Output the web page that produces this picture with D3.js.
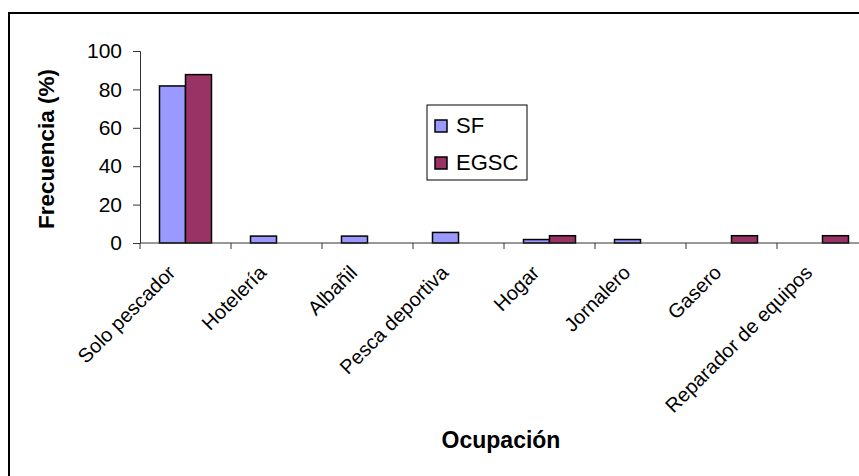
<!DOCTYPE html>
<html><head><meta charset="utf-8">
<script src="https://cdn.jsdelivr.net/npm/d3@7"></script>
<style>body{margin:0;background:#fff}svg{display:block;font-family:"Liberation Sans",Arial,sans-serif}</style>
</head><body><svg id="c" width="859" height="476"></svg>
<script>
const categories = ["Solo pescador","Hotelería","Albañil","Pesca deportiva","Hogar","Jornalero","Gasero","Reparador de equipos"];
const seriesNames = ["SF","EGSC"];
const sfValues = [81.8,3.6,3.6,5.5,1.8,1.8,0,0];
const egscValues = [87.7,0,0,0,3.8,0,3.8,3.8];
const yTicks = [0,20,40,60,80,100];
const colors = ["#9999FF","#993366"];

const svg = d3.select("#c");
svg.append("rect").attr("x",9).attr("y",13).attr("width",880).attr("height",500)
  .attr("fill","none").attr("stroke","#000").attr("stroke-width",2);

const x0 = 140, x1 = 868, yTop = 51, yBot = 243;
const x = d3.scaleBand().domain(categories).range([x0,x1]);
const y = d3.scaleLinear().domain([0,100]).range([yBot,yTop]);
const inner = d3.scaleBand().domain(seriesNames).range([0, 52]);
const vals = [sfValues, egscValues];

const yAxis = svg.append("g").attr("transform",`translate(${x0},0)`)
  .call(d3.axisLeft(y).tickValues(yTicks).tickSize(7).tickPadding(11));
yAxis.selectAll("text").attr("font-size",21).attr("fill","#000").attr("font-family","Liberation Sans, Arial");
yAxis.selectAll("line,path").attr("stroke","#333");

const g = svg.append("g");
categories.forEach((c,i)=>{
  seriesNames.forEach((s,j)=>{
    const v = vals[j][i];
    if (v<=0) return;
    g.append("rect")
      .attr("x", x(c) + (x.bandwidth()-52)/2 + inner(s))
      .attr("y", y(v)).attr("width", inner.bandwidth()).attr("height", y(0)-y(v))
      .attr("fill", colors[j]).attr("stroke","#000").attr("stroke-width",1.5);
  });
});

svg.append("line").attr("x1",x0).attr("x2",x1).attr("y1",yBot).attr("y2",yBot).attr("stroke","#333");
const bounds = categories.map(c=>x(c)).concat([x1]);
svg.selectAll(".xt").data(bounds).enter().append("line")
  .attr("x1",d=>d).attr("x2",d=>d).attr("y1",yBot).attr("y2",yBot+6).attr("stroke","#333");

svg.selectAll(".xl").data(categories).enter().append("text")
  .attr("transform", d=>`translate(${x(d)+x.bandwidth()/2-9},${yBot+31}) rotate(-45)`)
  .attr("text-anchor","end").attr("font-size",20).text(d=>d);

svg.append("text").attr("transform",`translate(54,149) rotate(-90)`)
  .attr("text-anchor","middle").attr("font-size",22.5).attr("font-weight","bold").text("Frecuencia (%)");
svg.append("text").attr("x",501).attr("y",448).attr("text-anchor","middle")
  .attr("font-size",23).attr("font-weight","bold").text("Ocupación");

const lg = svg.append("g");
lg.append("rect").attr("x",427).attr("y",105).attr("width",100).attr("height",75)
  .attr("fill","#fff").attr("stroke","#000").attr("stroke-width",1);
seriesNames.forEach((s,j)=>{
  const yy = 120 + j*37;
  lg.append("rect").attr("x",435).attr("y",yy).attr("width",12).attr("height",12)
    .attr("fill",colors[j]).attr("stroke","#000").attr("stroke-width",1.5);
  lg.append("text").attr("x",456).attr("y",yy+13).attr("font-size",22).text(s);
});
</script></body></html>
